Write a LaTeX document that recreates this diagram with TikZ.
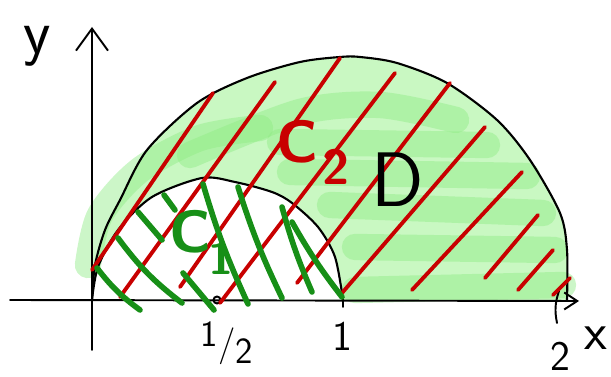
\documentclass[tikz,border=0pt]{standalone}
\usepackage{tikz}
\usetikzlibrary{arrows.meta}
\definecolor{penred}{HTML}{C80000}
\definecolor{pengreen}{HTML}{178F17}
\definecolor{marker}{HTML}{C9F8C2}
\definecolor{markerdark}{HTML}{8FEC84}
\tikzset{
  axis/.style={draw=black,line width=1.1pt,line cap=round},
  rim/.style={draw=black,line width=1.2pt},
  redhatch/.style={draw=penred,line width=2.2pt,line cap=round},
  greenhatch/.style={draw=pengreen,line width=3.2pt,line cap=round},
  band/.style={draw=markerdark,line width=15pt,line cap=round,opacity=0.45},
  hand/.style={font=\sffamily,inner sep=0pt},
}
\newcommand{\penfont}[1]{\fontsize{#1}{#1}\selectfont}

\begin{document}
\begin{tikzpicture}[x=0.02cm,y=-0.02cm]
  \path[use as bounding box] (0,0) rectangle (611,377);
  % marker colouring of D
  \fill[marker,even odd rule] plot[smooth] coordinates {(92,300) (95,265) (105,230) (120,200) (147,150) (197,103) (247,78) (300,62) (340,57) (360,57) (397,63) (447,83) (497,120) (530,160) (560,213) (567,250) (567,300)} -- cycle
    plot[smooth] coordinates {(92,300) (98,267) (118,230) (152,197) (202,178) (235,182) (272,192) (292,203) (318,227) (335,257) (343,300)} -- cycle;
  \draw[band] plot[smooth] coordinates {(88,265) (100,215) (140,170) (200,138) (260,128)};
  \draw[band] plot[smooth] coordinates {(190,155) (300,112) (380,105) (456,120)};
  \draw[band] (280,142) -- (487,145);
  \draw[band] (290,172) -- (527,176);
  \draw[band] (330,205) -- (543,213);
  \draw[band] (355,247) -- (555,250);
  \draw[band] (355,290) -- (563,285);
  % the two half discs
  \draw[rim] plot[smooth] coordinates {(92,300) (95,265) (105,230) (120,200) (147,150) (197,103) (247,78) (300,62) (340,57) (360,57) (397,63) (447,83) (497,120) (530,160) (560,213) (567,250) (567,300)};
  \draw[rim] plot[smooth] coordinates {(92,300) (98,267) (118,230) (152,197) (202,178) (235,182) (272,192) (292,203) (318,227) (335,257) (343,300)};
  % axes
  \coordinate (o) at (92,300);
  \coordinate (ytip) at (92,27);
  \coordinate (xtip) at (579,301);
  \draw[axis,-{Straight Barb[length=4.4mm,width=6.4mm]}] (92,350) -- (ytip);
  \draw[axis,-{Straight Barb[length=2.6mm,width=3.4mm]}] (10,300) -- (xtip);
  \draw[axis] (o) ++(0,-3) -- ++(0,6);
  \draw[axis] (343,298) -- (343,307);
  \draw[axis] (559,291) to[bend right=15] (557,323);
  \draw[axis] (217,300) circle[radius=3.5];
  % C2 hatching
  \draw[redhatch] (92,270) -- (213,93);
  \draw[redhatch] (120,297) -- (275,82);
  \draw[redhatch] (180,287) -- (340,58);
  \draw[redhatch] (220,303) -- (395,73);
  \draw[redhatch] (297,283) -- (450,83);
  \draw[redhatch] (342,293) -- (485,127);
  \draw[redhatch] (412,290) -- (522,172);
  \draw[redhatch] (485,278) -- (538,215);
  \draw[redhatch] (518,290) -- (553,250);
  \draw[redhatch] (553,295) -- (570,278);
  % C1 hatching
  \draw[greenhatch] (97,268) to[bend right=8] (140,310);
  \draw[greenhatch] (118,238) to[bend right=8] (182,303);
  \draw[greenhatch] (138,212) -- (162,240);
  \draw[greenhatch] (164,195) -- (175,210);
  \draw[greenhatch] (183,273) -- (214,310);
  \draw[greenhatch] (203,184) to[bend right=4] (248,304);
  \draw[greenhatch] (238,187) to[bend right=4] (282,298);
  \draw[greenhatch] (282,207) to[bend right=4] (312,292);
  \draw[greenhatch] (292,222) to[bend right=4] (342,297);
  % labels
  \node[hand] (ylabel) at (37,46) {\penfont{36}y};
  \node[hand] (xlabel) at (596,338) {\penfont{30}x};
  \node[hand] (two) at (560,356) {\penfont{24}2};
  \node[hand] (one) at (342,336) {\penfont{24}1};
  \node[hand] (half) at (227,343) {\penfont{21}\raisebox{5pt}{1}/\raisebox{-5pt}{2}};
  \node[hand] (dlabel) at (398,180) {\penfont{44}D};
  \node[hand,text=penred] (ctwo) at (297,142) {\penfont{34}\bfseries C};
  \node[hand,text=penred,anchor=west] (ctwosub) at ([xshift=2pt,yshift=-0.5cm]ctwo.east) {\penfont{28}\bfseries 2};
  \node[hand,text=pengreen] (cone) at (190,232) {\penfont{34}\bfseries C};
  \node[hand,text=pengreen] (conesub) at (221,258) {\penfont{26}\bfseries 1};
\end{tikzpicture}
\end{document}
